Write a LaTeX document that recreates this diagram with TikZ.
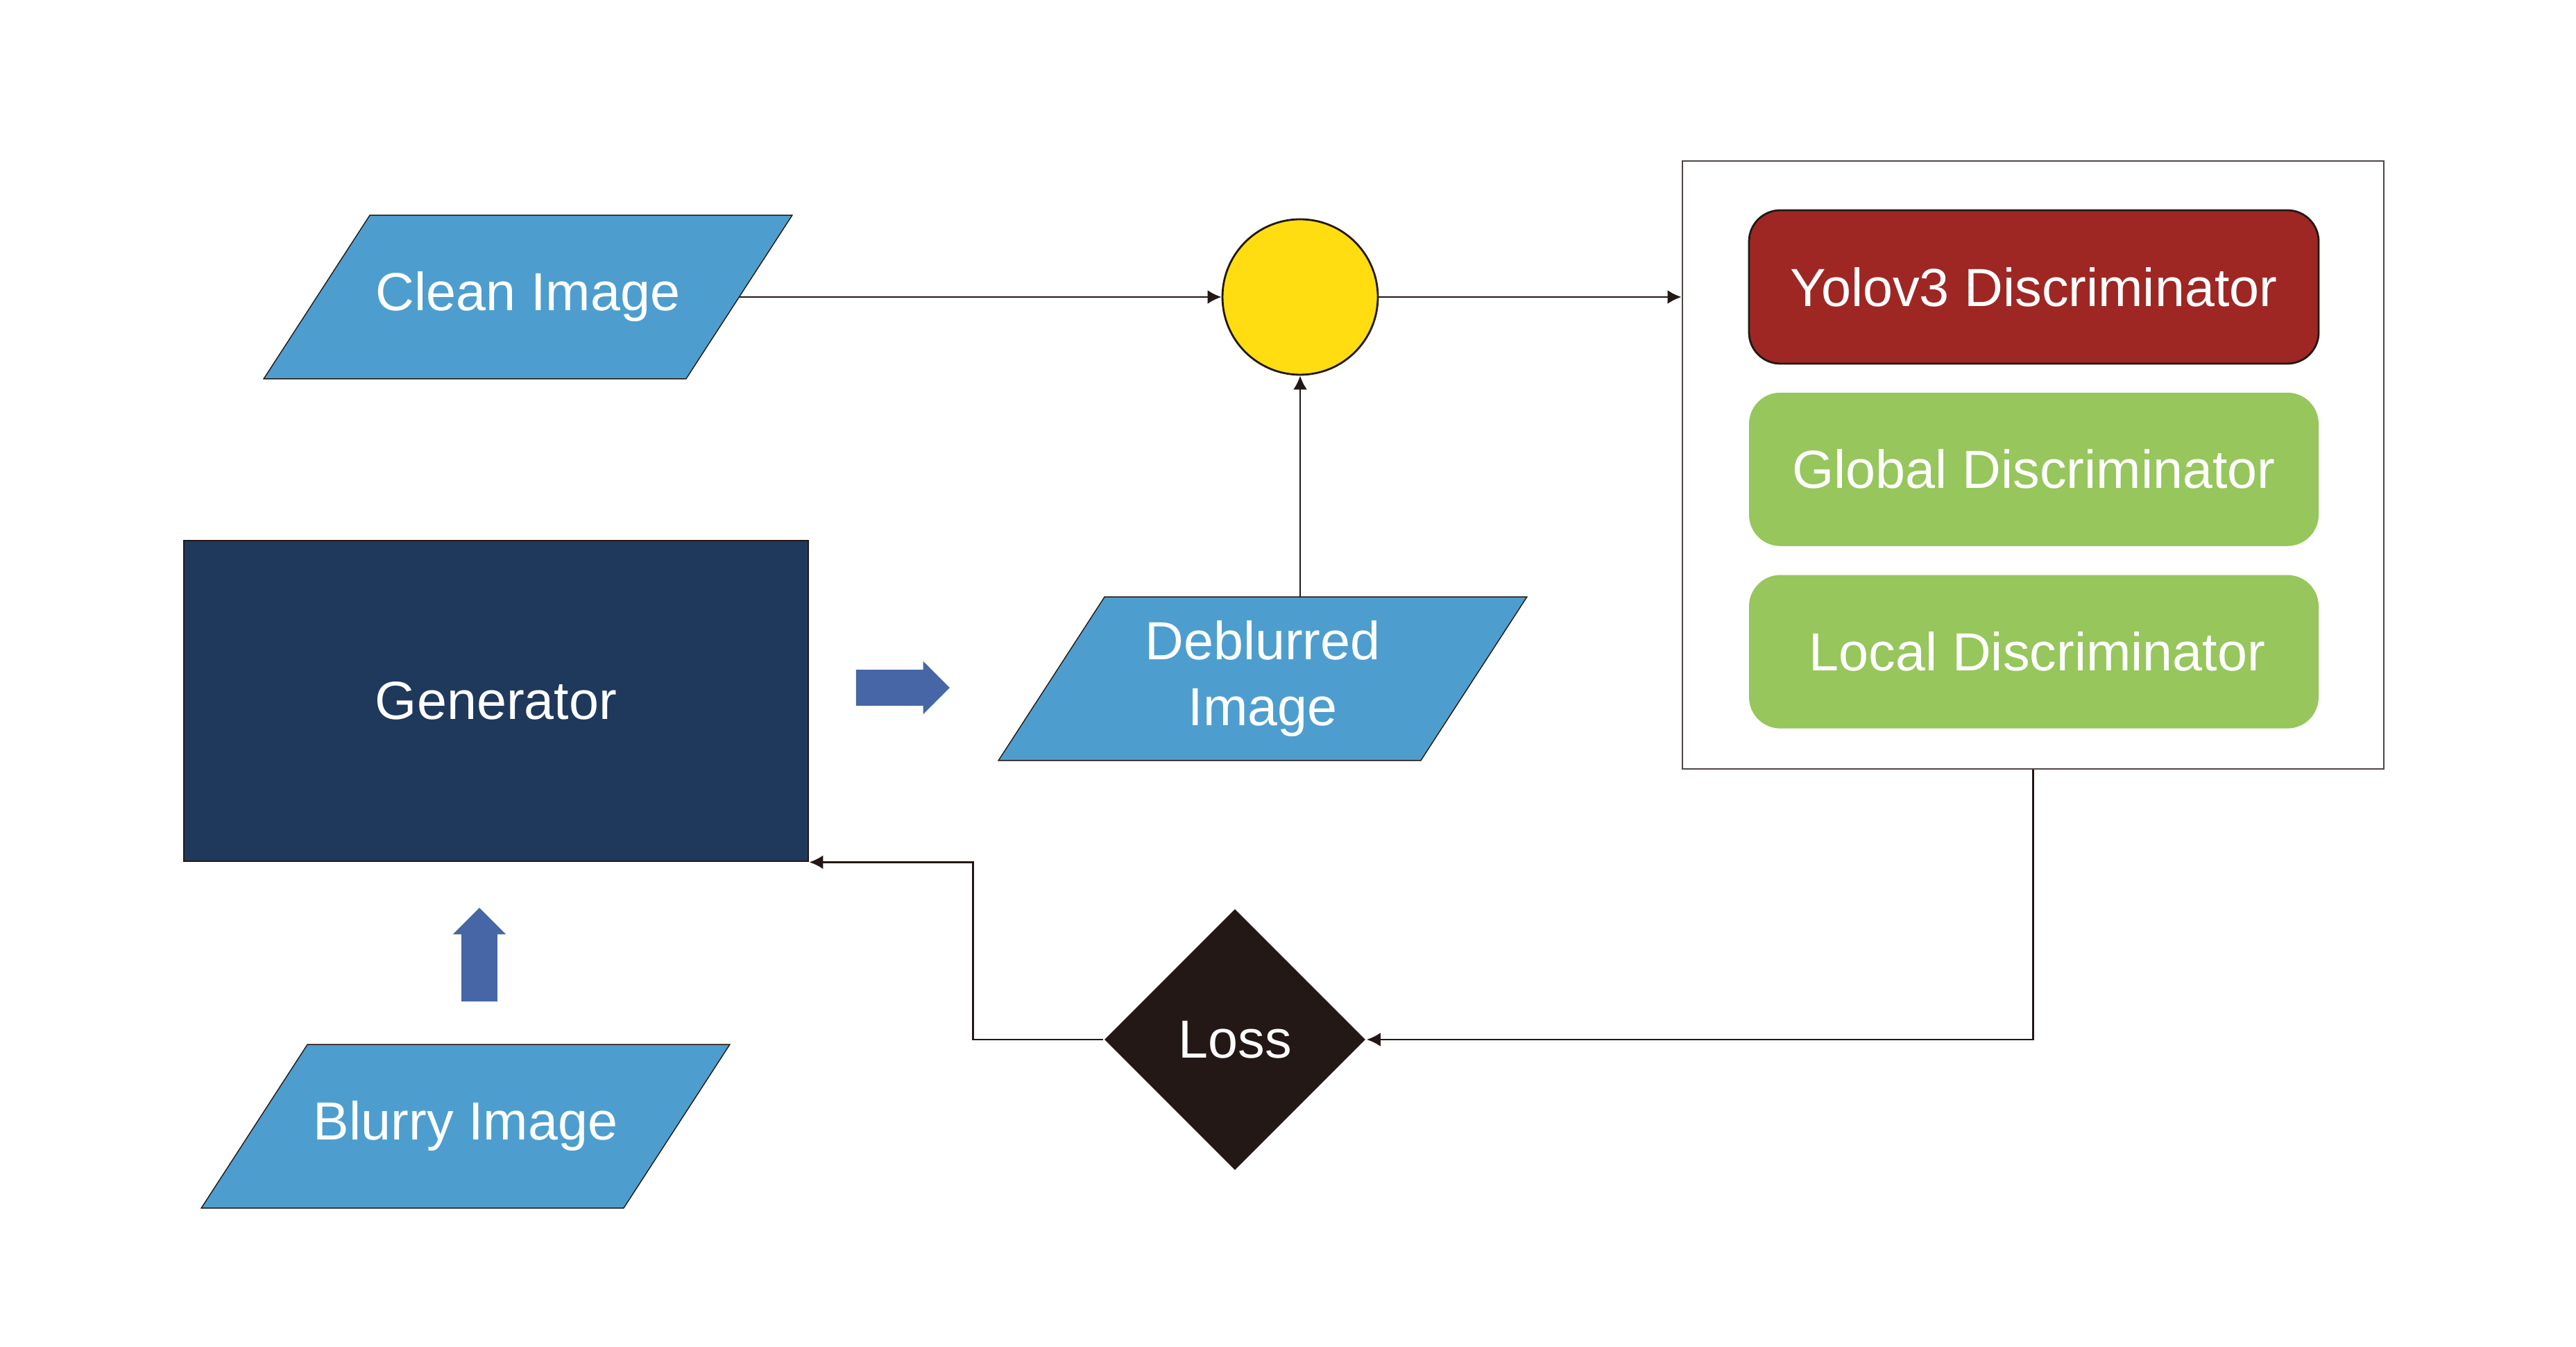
\documentclass[tikz,border=0pt]{standalone}
\usepackage{fontspec}
\setmainfont{Liberation Sans}
\usepackage{xcolor}
\usetikzlibrary{shapes, arrows.meta, positioning, backgrounds}

\definecolor{imgblue}{HTML}{4D9ECE}
\definecolor{gennavy}{HTML}{1F395C}
\definecolor{fatblue}{HTML}{4666A5}
\definecolor{mixyellow}{HTML}{FFDD10}
\definecolor{yolored}{HTML}{9E2724}
\definecolor{discgreen}{HTML}{96C65C}
\definecolor{lossdark}{HTML}{231816}
\definecolor{linedark}{HTML}{231815}

\begin{document}
\begin{tikzpicture}[>={Latex[length=2mm,width=2mm]}, line width=0.8pt, font=\fontsize{22}{27}\selectfont]
\tikzstyle{imgbox} = [rectangle, text=white, minimum width=6.06cm, minimum height=2.33cm, align=center]
\tikzstyle{discbox} = [rectangle, rounded corners=0.45cm, text=white, minimum width=8.21cm, minimum height=2.21cm]
\tikzstyle{fatarrow} = [single arrow, fill=fatblue, inner sep=0.245cm, minimum width=0.74cm, single arrow head extend=0.125cm, minimum height=1.35cm]
\tikzstyle{arrow} = [->, draw=linedark]

\useasboundingbox (0,0) rectangle (37.13,19.40);

\node[imgbox] (clean) at (7.61,15.12) {Clean Image};
\node[imgbox] (deblurred) at (18.20,9.62) {Deblurred\\Image};
\node[imgbox] (blurry) at (6.71,3.17) {Blurry Image};
\node[rectangle, draw=linedark, fill=gennavy, text=white, minimum width=9cm, minimum height=4.62cm] (gen) at (7.15,9.30) {Generator};
\node[circle, draw=linedark, fill=mixyellow, minimum size=2.24cm] (mix) at (18.74,15.12) {};
\node[diamond, fill=lossdark, text=white, minimum width=3.77cm, minimum height=3.77cm, inner sep=0pt] (loss) at (17.80,4.42) {Loss};

% slanted image boxes
\begin{scope}[on background layer]
\foreach \n in {clean, deblurred, blurry}
  \filldraw[draw=linedark, fill=imgblue] ([xshift=-0.765cm]\n.south west) -- ([xshift=-0.765cm]\n.south east)
    -- ([xshift=0.765cm]\n.north east) -- ([xshift=0.765cm]\n.north west) -- cycle;
\end{scope}

% discriminators
\node[rectangle, draw=linedark!80, minimum width=10.11cm, minimum height=8.76cm] (disc) at (29.305,12.70) {};
\node[discbox, draw=linedark, fill=yolored] (yolo) at (29.315,15.265) {Yolov3 Discriminator};
\node[discbox, fill=discgreen, below=0.39cm of yolo] (global) {Global Discriminator};
\node[discbox, fill=discgreen, below=0.39cm of global] (local) {\hspace{0.1cm}Local Discriminator};

% block arrows
\node[fatarrow] (genout) at (12.885,9.49) {};
\node[fatarrow, shape border rotate=90] (genin) at (6.91,5.515) {};

\draw[arrow] (clean) -- (mix);
\draw[arrow] (deblurred.north -| mix) -- (mix);
\draw[arrow] (mix) -- (mix -| disc.west);
\draw[arrow] (disc.south) |- (loss.east);
\draw[arrow] (loss.west) -- ++(-1.88,0) |- (gen.south east);
\end{tikzpicture}
\end{document}
